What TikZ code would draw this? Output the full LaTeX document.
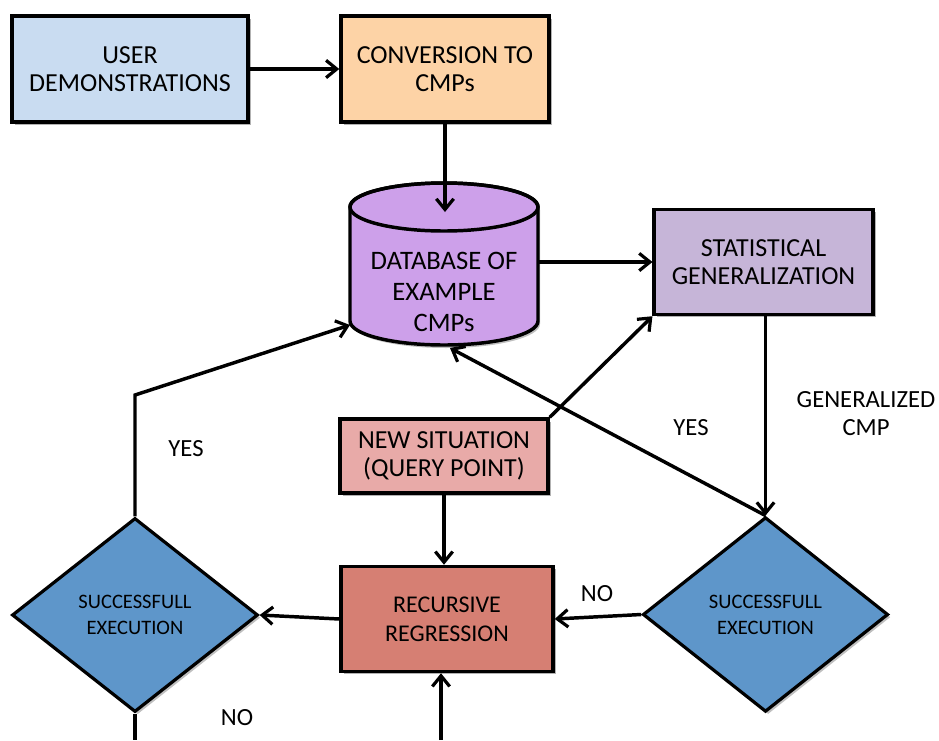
\documentclass[tikz,border=0pt]{standalone}
\usepackage{fontspec}
\setmainfont{Carlito}
\usetikzlibrary{arrows.meta,shapes.geometric,shadows}
\definecolor{cuser}{HTML}{C9DCF1}
\definecolor{cconv}{HTML}{FDD3A6}
\definecolor{cdb}{HTML}{CDA0EA}
\definecolor{cstat}{HTML}{C6B5D8}
\definecolor{cnew}{HTML}{E8AAA8}
\definecolor{crec}{HTML}{D67F73}
\definecolor{cdia}{HTML}{5E96CA}
\tikzset{
  box/.style={draw=black, line width=2.6pt, rectangle, align=center, inner sep=2pt,
    font=\fontsize{19.5}{21}\selectfont,
    drop shadow={shadow xshift=2pt, shadow yshift=-2pt, opacity=0.3, fill=black}},
  dia/.style={draw=black, line width=2.4pt, diamond, align=center, inner sep=0pt, fill=cdia,
    font=\fontsize{15.4}{19.5}\selectfont,
    drop shadow={shadow xshift=2pt, shadow yshift=-2pt, opacity=0.25, fill=black}},
  arr/.style={line width=2.6pt, -{Straight Barb[length=8pt,width=13pt,line width=2.4pt]}},
  ln/.style={line width=2.6pt},
  lbl/.style={font=\fontsize{18.5}{21}\selectfont, align=center}
}
\begin{document}
\begin{tikzpicture}[x=0.75pt,y=-0.75pt]
\useasboundingbox (0,0) rectangle (939,740);
% boxes
\node[box, fill=cuser, minimum width=177pt, minimum height=79.5pt] (user) at (130,69) {USER\\DEMONSTRATIONS};
\node[box, fill=cconv, minimum width=156pt, minimum height=79.5pt] (conv) at (445,69) {CONVERSION TO\\CMPs};
\node[box, fill=cstat, minimum width=164pt, minimum height=78.75pt] (stat) at (763.5,262) {STATISTICAL\\GENERALIZATION};
\node[box, fill=cnew, minimum width=156pt, minimum height=55.5pt] (newsit) at (444,456) {NEW SITUATION\\(QUERY POINT)};
\node[box, fill=crec, minimum width=159pt, minimum height=78.75pt, font=\fontsize{18}{21.75}\selectfont] (rec) at (447,619) {RECURSIVE\\REGRESSION};
% cylinder
\fill[black, opacity=0.25] (352,210) -- (352,324) arc[start angle=180, end angle=360, x radius=70.5pt, y radius=18pt] -- (540,210) arc[start angle=0, end angle=180, x radius=70.5pt, y radius=18pt] -- cycle;
\filldraw[fill=cdb, draw=black, line width=2.6pt] (350,207) -- (350,321) arc[start angle=180, end angle=360, x radius=70.5pt, y radius=18pt] -- (538,207) arc[start angle=0, end angle=180, x radius=70.5pt, y radius=18pt] -- cycle;
\draw[line width=2.6pt] (444,207) ellipse [x radius=70.5pt, y radius=18pt];
\node[inner sep=0pt, minimum width=141pt, minimum height=121.5pt] (db) at (444,264) {};
\node[align=center, font=\fontsize{20}{23.25}\selectfont] (dbtext) at (444,292) {DATABASE OF\\EXAMPLE\\CMPs};
\coordinate (dbtop) at (445,212);
\coordinate (dbbot) at (450,348);
\coordinate (dbleft) at (350,325);
% diamonds
\node[dia, minimum width=184.5pt, minimum height=145.5pt] (dl) at (135,615) {SUCCESSFULL\\EXECUTION};
\node[dia, minimum width=184pt, minimum height=146pt] (dr) at (765.5,614.5) {SUCCESSFULL\\EXECUTION};
% helper coordinates
\coordinate (bend) at (135,395);
\coordinate (dlout) at (135,740);
\coordinate (recin) at (441,740);
% connectors
\draw[arr] (user.east) -- (conv.west);
\draw[arr] (conv.south) -- (dbtop);
\draw[arr] (538,262) -- (stat.west);
\draw[arr] (newsit.north east) -- (stat.south west);
\draw[arr] (stat.south -| dr.north) -- (dr.north);
\draw[arr] (dr.north) -- (dbbot);
\draw[arr] (dr.west) -- (rec.east);
\draw[arr] (newsit.south) -- (rec.north -| newsit.south);
\draw[arr] (rec.west) -- (dl.east);
\draw[arr] (dl.north) -- (bend) -- (dbleft);
\draw[ln] (dl.south) -- (dlout);
\draw[arr] (recin) -- (rec.south -| recin);
% labels
\node[lbl] (l1) at (866,414) {GENERALIZED\\CMP};
\node[lbl] (l2) at (691,428) {YES};
\node[lbl] (l3) at (597,594) {NO};
\node[lbl] (l4) at (186,449) {YES};
\node[lbl] (l5) at (237,718) {NO};
\end{tikzpicture}
\end{document}
